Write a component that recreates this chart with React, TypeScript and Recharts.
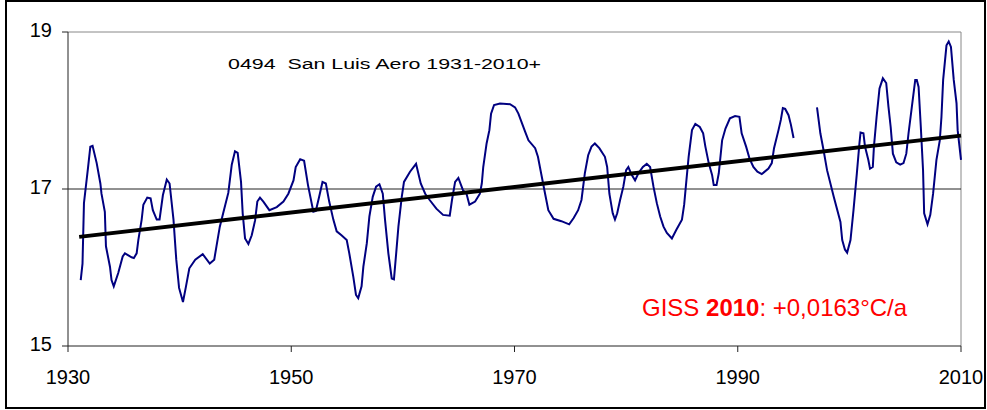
import React from "react";
import {
  ComposedChart,
  Line,
  XAxis,
  YAxis,
  ReferenceLine,
} from "recharts";

// smoothed annual mean, San Luis Aero
const years = [
  1931.14, 1931.3, 1931.43, 1931.8, 1932.0, 1932.2, 1932.57, 1932.9, 1933.0, 1933.3,
  1933.4, 1933.76, 1933.9, 1934.1, 1934.5, 1934.9, 1935.1, 1935.7, 1935.9, 1936.15,
  1936.3, 1936.6, 1936.75, 1937.1, 1937.4, 1937.6, 1937.95, 1938.2, 1938.5, 1938.85,
  1939.1, 1939.45, 1939.7, 1939.95, 1940.3, 1940.57, 1940.87, 1941.4, 1942.07, 1942.7,
  1943.1, 1943.3, 1943.6, 1943.9, 1944.36, 1944.67, 1944.96, 1945.2, 1945.5, 1945.65,
  1945.86, 1946.16, 1946.46, 1946.76, 1946.96, 1947.2, 1947.5, 1948.04, 1948.7, 1949.3,
  1949.74, 1950.2, 1950.4, 1950.8, 1951.15, 1951.5, 1951.98, 1952.2, 1952.5, 1952.8,
  1953.1, 1953.4, 1953.77, 1954.07, 1954.5, 1954.97, 1955.2, 1955.56, 1955.8, 1956.0,
  1956.3, 1956.46, 1956.77, 1957.0, 1957.3, 1957.6, 1957.9, 1958.2, 1958.4, 1958.7,
  1959.0, 1959.2, 1959.4, 1959.6, 1959.9, 1960.1, 1960.64, 1961.18, 1961.6, 1962.0,
  1962.4, 1963.0, 1963.6, 1964.2, 1964.4, 1964.68, 1964.97, 1965.4, 1965.7, 1965.96,
  1966.47, 1966.9, 1967.07, 1967.2, 1967.5, 1967.75, 1967.9, 1968.17, 1968.7, 1969.6,
  1970.05, 1970.35, 1970.95, 1971.25, 1971.85, 1972.1, 1972.44, 1972.74, 1973.03, 1973.5,
  1974.2, 1974.9, 1975.3, 1975.7, 1976.0, 1976.3, 1976.6, 1976.9, 1977.2, 1977.6,
  1978.1, 1978.3, 1978.5, 1978.8, 1979.0, 1979.2, 1979.46, 1979.75, 1980.0, 1980.2,
  1980.5, 1980.8, 1981.1, 1981.5, 1981.85, 1982.15, 1982.45, 1982.75, 1983.05, 1983.35,
  1983.65, 1984.1, 1984.5, 1985.0, 1985.2, 1985.4, 1985.6, 1985.9, 1986.2, 1986.6,
  1986.9, 1987.1, 1987.4, 1987.7, 1987.85, 1988.1, 1988.3, 1988.6, 1988.9, 1989.3,
  1989.76, 1990.15, 1990.35, 1990.75, 1991.05, 1991.4, 1991.76, 1992.15, 1992.75, 1993.05,
  1993.25, 1993.65, 1993.86, 1994.04, 1994.25, 1994.55, 1994.76, 1995.0, 1996.0, 1997.1,
  1997.4, 1997.68, 1998.0, 1998.6, 1999.2, 1999.36, 1999.6, 1999.8, 2000.1, 2000.37,
  2000.67, 2000.9, 2001.0, 2001.26, 2001.4, 2001.7, 2001.85, 2002.1, 2002.2, 2002.44,
  2002.7, 2003.0, 2003.3, 2003.5, 2003.7, 2003.9, 2004.2, 2004.55, 2004.85, 2005.1,
  2005.3, 2005.6, 2005.9, 2006.04, 2006.2, 2006.4, 2006.6, 2006.7, 2007.0, 2007.25,
  2007.5, 2007.8, 2008.1, 2008.25, 2008.4, 2008.7, 2008.9, 2009.1, 2009.35, 2009.6,
  2009.7, 2010.0,
];

const temps: (number | null)[] = [
  15.84, 16.05, 16.82, 17.28, 17.54, 17.55, 17.33, 17.07, 16.94, 16.71,
  16.27, 16.01, 15.84, 15.76, 15.93, 16.14, 16.18, 16.13, 16.12, 16.18,
  16.35, 16.61, 16.8, 16.89, 16.88, 16.73, 16.61, 16.61, 16.92, 17.12,
  17.07, 16.61, 16.1, 15.74, 15.56, 15.76, 15.99, 16.1, 16.17, 16.05,
  16.1, 16.27, 16.52, 16.69, 16.95, 17.31, 17.48, 17.46, 17.09, 16.69,
  16.37, 16.3, 16.41, 16.6, 16.84, 16.89, 16.84, 16.73, 16.77, 16.84,
  16.94, 17.11, 17.28, 17.38, 17.36, 17.05, 16.71, 16.72, 16.9, 17.09,
  17.07, 16.84, 16.61, 16.46, 16.41, 16.35, 16.18, 15.88, 15.65, 15.61,
  15.76, 16.01, 16.31, 16.65, 16.9, 17.03, 17.06, 16.94, 16.61, 16.18,
  15.86, 15.85, 16.18, 16.52, 16.9, 17.09, 17.22, 17.32, 17.07, 16.94,
  16.86, 16.75, 16.67, 16.66, 16.86, 17.09, 17.14, 16.98, 16.94, 16.8,
  16.84, 16.94, 17.07, 17.28, 17.58, 17.75, 17.96, 18.07, 18.09, 18.08,
  18.04, 17.96, 17.73, 17.62, 17.52, 17.41, 17.16, 16.94, 16.73, 16.62,
  16.59, 16.55, 16.63, 16.73, 16.86, 17.2, 17.43, 17.54, 17.58, 17.52,
  17.41, 17.28, 16.94, 16.69, 16.61, 16.69, 16.86, 17.03, 17.24, 17.28,
  17.18, 17.11, 17.2, 17.28, 17.32, 17.28, 17.03, 16.82, 16.65, 16.52,
  16.44, 16.37, 16.48, 16.61, 16.8, 17.11, 17.41, 17.75, 17.83, 17.79,
  17.71, 17.54, 17.33, 17.18, 17.05, 17.05, 17.2, 17.62, 17.77, 17.9,
  17.93, 17.92, 17.71, 17.54, 17.39, 17.28, 17.22, 17.19, 17.26, 17.33,
  17.52, 17.75, 17.88, 18.03, 18.02, 17.94, 17.82, 17.65, null, 18.04,
  17.71, 17.5, 17.24, 16.9, 16.58, 16.35, 16.23, 16.19, 16.35, 16.73,
  17.2, 17.58, 17.72, 17.71, 17.54, 17.37, 17.26, 17.28, 17.54, 17.92,
  18.28, 18.41, 18.35, 18.05, 17.79, 17.45, 17.34, 17.31, 17.33, 17.45,
  17.71, 18.05, 18.39, 18.39, 18.3, 17.79, 17.24, 16.69, 16.55, 16.67,
  16.94, 17.37, 17.62, 17.92, 18.39, 18.83, 18.88, 18.81, 18.39, 18.09,
  17.75, 17.37,
];

const trendYears = [1931, 2010];
const trendValues = [16.39, 17.68];

const xTicks = [1930, 1950, 1970, 1990, 2010];
const yTicks = [15, 17, 19];

const series = years.map((year, i) => ({ year, t: temps[i] }));
const trend = trendYears.map((year, i) => ({ year, t: trendValues[i] }));

const FONT = "'Liberation Sans', Arial, sans-serif";

export default function App() {
  return (
    <div
      style={{
        position: "absolute",
        left: 0,
        top: 0,
        width: 987,
        height: 410,
        background: "#fff",
        fontFamily: FONT,
      }}
    >
      <div
        style={{
          position: "absolute",
          left: 5,
          top: 0,
          width: 981,
          height: 409,
          border: "2px solid #000",
          boxSizing: "border-box",
        }}
      />
      <ComposedChart
        width={987}
        height={410}
        margin={{ top: 32, right: 26, bottom: 0, left: 0 }}
        style={{ position: "absolute", left: 0, top: 0 }}
      >
        <XAxis
          dataKey="year"
          type="number"
          domain={[1930, 2010]}
          ticks={xTicks}
          height={64}
          tick={{ fill: "#000", fontSize: 20, fontFamily: FONT }}
          tickSize={6}
          tickMargin={18}
          stroke="#222"
        />
        <YAxis
          type="number"
          domain={[15, 19]}
          ticks={yTicks}
          width={68}
          tick={{ fill: "#000", fontSize: 20, fontFamily: FONT, dy: -2 }}
          tickSize={6}
          tickMargin={10}
          stroke="#222"
        />
        <ReferenceLine y={19} stroke="#888" strokeWidth={1} />
        <ReferenceLine x={2010} stroke="#888" strokeWidth={1} />
        <ReferenceLine y={17} stroke="#222" strokeWidth={1} />
        <Line
          data={series}
          dataKey="t"
          type="linear"
          stroke="#000080"
          strokeWidth={2}
          dot={false}
          activeDot={false}
          connectNulls={false}
          isAnimationActive={false}
        />
        <Line
          data={trend}
          dataKey="t"
          type="linear"
          stroke="#000"
          strokeWidth={4}
          dot={false}
          activeDot={false}
          isAnimationActive={false}
        />
      </ComposedChart>
      <svg
        width={987}
        height={410}
        style={{ position: "absolute", left: 0, top: 0, pointerEvents: "none" }}
      >
        <text
          x={228}
          y={69}
          fontSize={15.5}
          fill="#000"
          fontFamily={FONT}
          textLength={313}
          lengthAdjust="spacingAndGlyphs"
          style={{ whiteSpace: "pre" }}
        >
          0494  San Luis Aero 1931-2010+
        </text>
        <text x={642} y={316} fontSize={24} fill="#ff0000" fontFamily={FONT}>
          GISS <tspan fontWeight="bold">2010</tspan>: +0,0163°C/a
        </text>
      </svg>
    </div>
  );
}
